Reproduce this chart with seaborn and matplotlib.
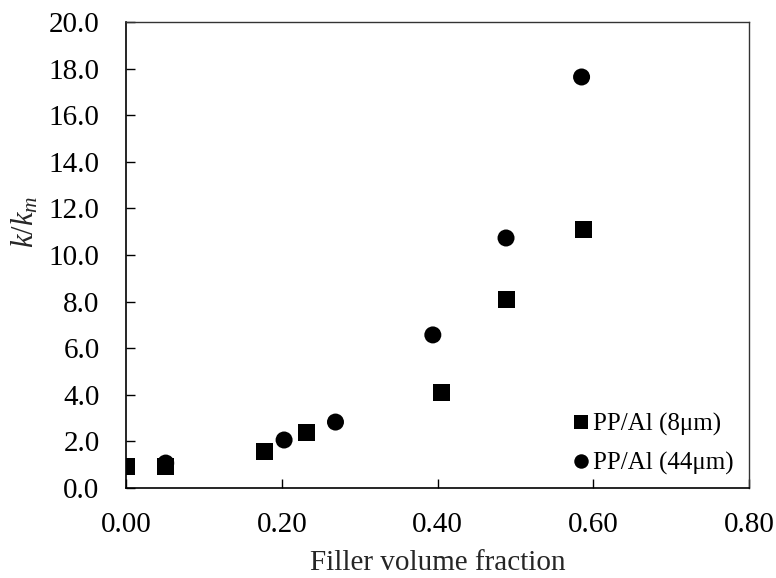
import matplotlib
matplotlib.use("Agg")
import matplotlib.pyplot as plt
from matplotlib.ticker import FormatStrFormatter, MultipleLocator
import pandas as pd
import seaborn as sns

# data
frac_8um = [0.0, 0.051, 0.178, 0.232, 0.405, 0.488, 0.587]
k_8um = [0.94, 0.94, 1.55, 2.40, 4.08, 8.11, 11.1]
frac_44um = [0.051, 0.203, 0.269, 0.394, 0.488, 0.585]
k_44um = [1.07, 2.06, 2.83, 6.57, 10.73, 17.64]
series_names = ["PP/Al (8μm)", "PP/Al (44μm)"]

df = pd.concat([
    pd.DataFrame({"frac": frac_8um, "k": k_8um, "series": series_names[0]}),
    pd.DataFrame({"frac": frac_44um, "k": k_44um, "series": series_names[1]}),
], ignore_index=True)

sns.set_theme(style="ticks")
plt.rcParams["font.family"] = ["Liberation Serif", "DejaVu Serif"]
plt.rcParams["mathtext.fontset"] = "custom"
plt.rcParams["mathtext.rm"] = "Liberation Serif"
plt.rcParams["mathtext.it"] = "Liberation Serif:italic"

fig = plt.figure(figsize=(7.76, 5.78), dpi=100)
ax = fig.add_axes([126 / 776, 90 / 578, 623 / 776, 466 / 578])

sns.scatterplot(
    data=df, x="frac", y="k", style="series",
    markers={series_names[0]: "s", series_names[1]: "o"},
    color="black", s=150, linewidth=0, ax=ax, legend=True,
)

ax.set_xlim(0, 0.8)
ax.set_ylim(0, 20)
ax.xaxis.set_major_locator(MultipleLocator(0.2))
ax.yaxis.set_major_locator(MultipleLocator(2.0))
ax.xaxis.set_major_formatter(FormatStrFormatter("%.2f"))
ax.yaxis.set_major_formatter(FormatStrFormatter("%.1f"))
ax.tick_params(direction="in", length=6.5, width=1.0, labelsize=21,
               colors="black")
ax.tick_params(axis="y", pad=19)
ax.tick_params(axis="x", pad=17)

for side in ["left", "bottom"]:
    ax.spines[side].set_color("black")
    ax.spines[side].set_linewidth(1.2)
for side in ["top", "right"]:
    ax.spines[side].set_visible(True)
    ax.spines[side].set_color("#333333")
    ax.spines[side].set_linewidth(1.0)

ax.set_xlabel("Filler volume fraction", fontsize=21, labelpad=9)
ax.set_ylabel("$k/k_m$", fontsize=22)
ax.yaxis.set_label_coords(-0.138, 0.57)

leg = ax.legend(
    loc="center left", bbox_to_anchor=(558 / 776, 1 - 444 / 578),
    bbox_transform=fig.transFigure, frameon=False, fontsize=18,
    handletextpad=0.0, labelspacing=0.65, markerscale=0.85,
    borderaxespad=0, handlelength=1.0,
)
for t in leg.get_texts():
    t.set_color("black")

fig.savefig("out.png", dpi=100)
